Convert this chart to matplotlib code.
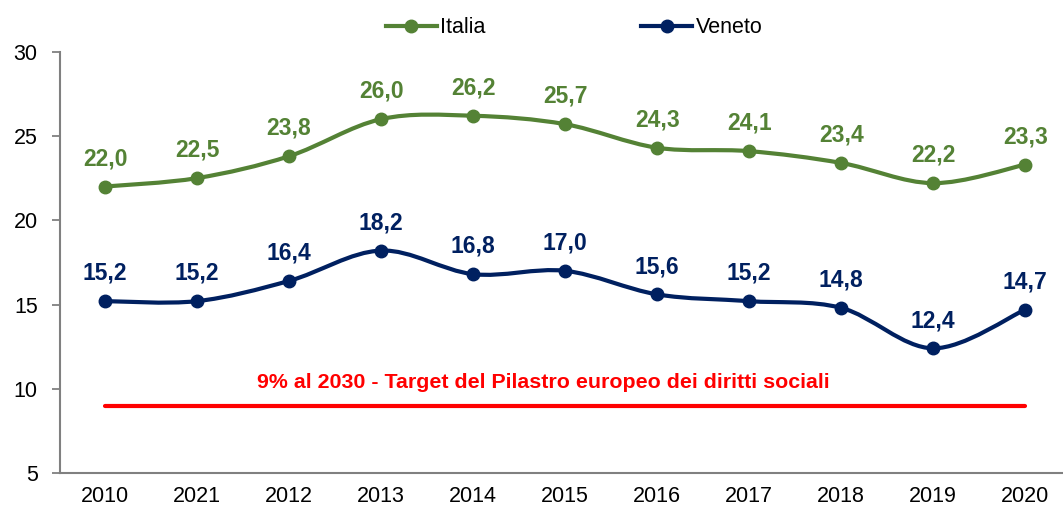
import matplotlib.pyplot as plt
from matplotlib.path import Path
from matplotlib.patches import PathPatch
import numpy as np

plt.rcParams["font.family"] = ["Liberation Sans", "DejaVu Sans"]

years = ["2010", "2021", "2012", "2013", "2014", "2015", "2016", "2017", "2018", "2019", "2020"]
italia = [22.0, 22.5, 23.8, 26.0, 26.2, 25.7, 24.3, 24.1, 23.4, 22.2, 23.3]
veneto = [15.2, 15.2, 16.4, 18.2, 16.8, 17.0, 15.6, 15.2, 14.8, 12.4, 14.7]
target = 9.0
target_label = "9% al 2030 - Target del Pilastro europeo dei diritti sociali"

green = "#548235"
navy = "#002060"


def smooth_path(xs, ys):
    # Excel-style smoothed line: cubic bezier segments through every point
    pts = np.column_stack([xs, ys])
    n = len(pts)
    verts = [pts[0]]
    codes = [Path.MOVETO]
    for i in range(n - 1):
        p0 = pts[i - 1] if i > 0 else pts[i]
        p3 = pts[i + 2] if i + 2 < n else pts[i + 1]
        c1 = pts[i] + (pts[i + 1] - p0) / 6
        c2 = pts[i + 1] - (p3 - pts[i]) / 6
        verts += [c1, c2, pts[i + 1]]
        codes += [Path.CURVE4] * 3
    return Path(verts, codes)


fig = plt.figure(figsize=(10.63, 5.07), dpi=100)
ax = fig.add_axes([0.0564, 0.067, 0.9436, 0.831])

x = np.arange(len(years))

for vals, color, name in [(italia, green, "Italia"), (veneto, navy, "Veneto")]:
    ax.add_patch(PathPatch(smooth_path(x, vals), fill=False, edgecolor=color,
                           lw=3, capstyle="round", zorder=2))
    ax.plot(x, vals, linestyle="None", marker="o", markersize=9, color=color, zorder=3)
    # legend handle
    ax.plot([], [], color=color, lw=3, marker="o", markersize=9, label=name)
    for xi, v in zip(x, vals):
        ax.annotate(f"{v:.1f}".replace(".", ","), (xi, v), xytext=(0, 20),
                    textcoords="offset points", ha="center", va="center",
                    fontsize=16.5, fontweight="bold", color=color)

ax.plot([x[0], x[-1]], [target, target], color="red", lw=3, solid_capstyle="round")
ax.text(4.76, 10.38, target_label, ha="center", va="center", color="red",
        fontsize=15.4, fontweight="bold")

ax.set_xlim(-0.49, 10.41)
ax.set_ylim(5, 30)
ax.set_yticks([5, 10, 15, 20, 25, 30])
ax.set_xticks(x)
ax.set_xticklabels(years)
ax.tick_params(axis="y", labelsize=15.5, length=6, width=1.3, color="#808080", pad=10)
ax.tick_params(axis="x", labelsize=15.5, length=0, pad=9)

for s in ["top", "right"]:
    ax.spines[s].set_visible(False)
for s in ["left", "bottom"]:
    ax.spines[s].set_color("#808080")
    ax.spines[s].set_linewidth(1.5)

fig.legend(loc="center", bbox_to_anchor=(0.54, 0.945), ncol=2, frameon=False,
           fontsize=15.5, handlelength=2.4, columnspacing=7.2, handletextpad=0.15)

fig.savefig("out.png", dpi=100)
